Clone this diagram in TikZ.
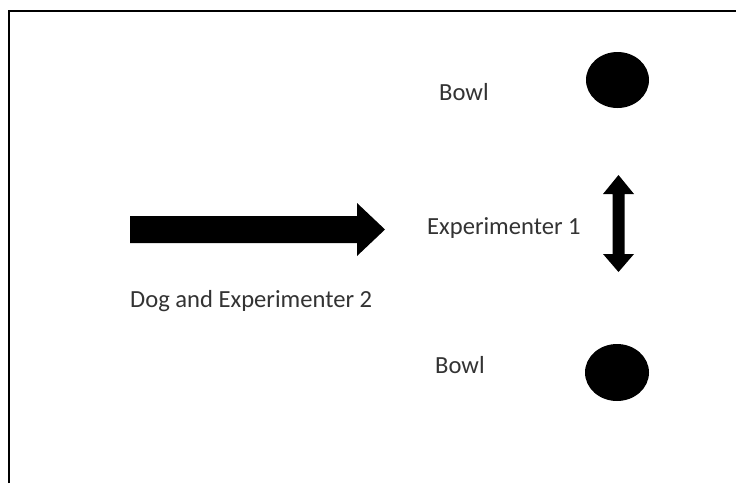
\documentclass[tikz,border=0pt]{standalone}
\usepackage{fontspec}
\setmainfont{Carlito}
\begin{document}
\begin{tikzpicture}[x=1pt,y=-1pt,
  lbl/.style={anchor=base west,inner sep=0pt,text=black!80,font=\fontsize{24.6}{29}\selectfont},
  bowlshape/.style={fill=black}]
\useasboundingbox (0,0) rectangle (736,483);
\fill[white] (0,0) rectangle (736,483);
% frame (top and left only)
\draw[line width=2pt] (8.5,483) -- (8.5,10.5) -- (736,10.5);
% labels
\node[lbl] (bowltop) at (439,100) {Bowl};
\node[lbl] (exp1) at (427,234) {Experimenter 1};
\node[lbl] (dog) at (130,307) {Dog and Experimenter 2};
\node[lbl] (bowlbot) at (435,373) {Bowl};
% bowls
\fill[bowlshape] (617.5,80) ellipse [x radius=31.5,y radius=28];
\fill[bowlshape] (617,372.5) ellipse [x radius=32,y radius=28.5];
% block arrow
\fill[black] (130,216) -- (357,216) -- (357,203) -- (385,229.5) -- (357,256) -- (357,243) -- (130,243) -- cycle;
% double arrow
\fill[black] (618.5,175) -- (634,194) -- (624.5,194) -- (624.5,254) -- (634,254) -- (618.5,272) -- (603,254) -- (612.5,254) -- (612.5,194) -- (603,194) -- cycle;
\end{tikzpicture}
\end{document}
